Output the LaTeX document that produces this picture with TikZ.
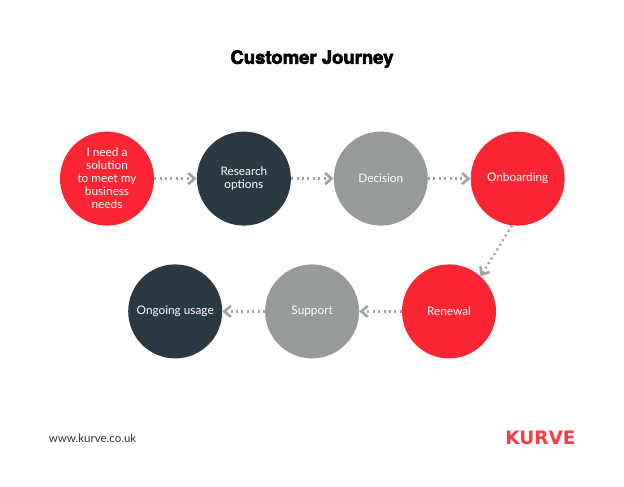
\documentclass[tikz,border=0pt]{standalone}
\usepackage{fontspec}
\setmainfont{Lato}
\newfontfamily\titlefont[FakeBold=3]{TeX Gyre Heros Bold}
\newfontfamily\logofont{DejaVu Sans Bold}
\usetikzlibrary{positioning,arrows.meta}

\definecolor{kurvered}{HTML}{FB2633}
\definecolor{kurvedark}{HTML}{2A3942}
\definecolor{kurvegray}{HTML}{979A9A}
\definecolor{arrowgray}{HTML}{9FA2A2}

\begin{document}
\begin{tikzpicture}[
    x=1pt, y=-1pt,
    font=\fontsize{11.8}{13}\selectfont,
    node distance=0pt and 42.5pt,
    stage/.style ={circle, minimum size=94pt, inner sep=0pt, align=center,
                   text=white},
    redstage/.style  ={stage, fill=kurvered},
    darkstage/.style ={stage, fill=kurvedark},
    greystage/.style ={stage, fill=kurvegray},
    flow/.style  ={-{Straight Barb[length=6.5pt,width=11pt,line width=2.6pt]},
                   arrowgray, line width=2.4pt, dash pattern=on 2pt off 3.4pt},
]
\useasboundingbox (0,0) rectangle (624,487);

% title
\node[font=\fontsize{18.5}{24}\selectfont\titlefont] (title) at (312,59) {Customer Journey};

% top row, left to right
\node[redstage] (need) at (107,178.6)
    {I need a\\solution\\to meet my\\business\\needs};
\node[darkstage, right=of need]     (research)   {Research\\options};
\node[greystage, right=of research] (decision)   {Decision};
\node[redstage,  right=of decision] (onboarding) {Onboarding};

% bottom row, right to left
\node[redstage] (renewal) at (449,311.4) {Renewal};
\node[greystage, left=of renewal] (support) {Support};
\node[darkstage, left=of support] (ongoing) {Ongoing usage};

% arrows
\draw[flow] (need)       -- (research);
\draw[flow] (research)   -- (decision);
\draw[flow] (decision)   -- (onboarding);
\draw[flow] (onboarding.263) -- (renewal.48);
\draw[flow] (renewal)    -- (support);
\draw[flow] (support)    -- (ongoing);

% footer
\node[font=\fontsize{11.5}{14}\selectfont, text=black!80] (web) at (92.5,438) {www.kurve.co.uk};
\node[font=\fontsize{18.5}{20}\selectfont\logofont, text=kurvered!90!white] (logo) at (540.5,438) {KURVE};
\end{tikzpicture}
\end{document}
